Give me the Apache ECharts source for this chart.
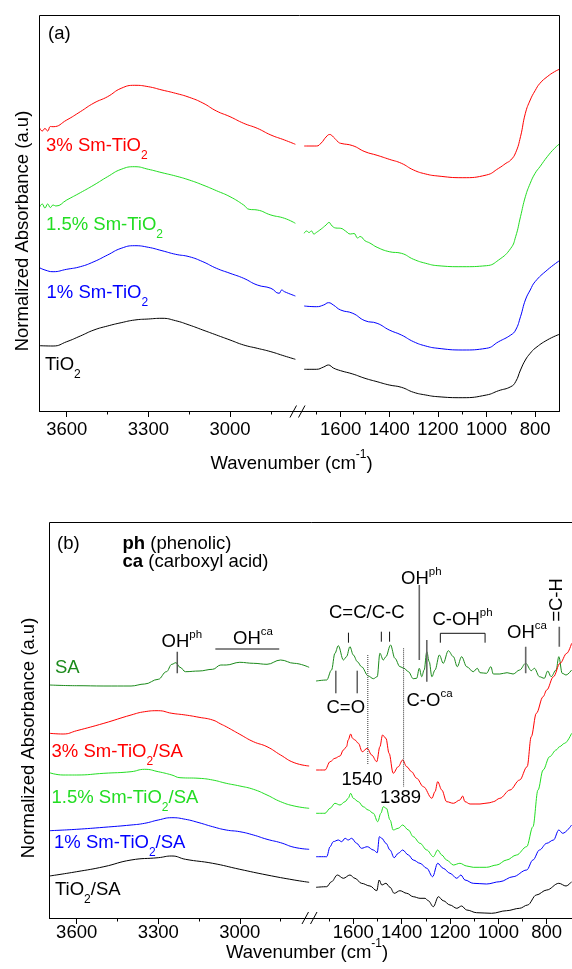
<!DOCTYPE html>
<html><head><meta charset="utf-8">
<script src="https://cdn.jsdelivr.net/npm/echarts@6/dist/echarts.min.js"></script>
<style>html,body{margin:0;padding:0;background:#fff}#c{width:572px;height:969px}</style>
</head><body><div id="c"></div>
<script>
// ---------------- DATA (wavenumber cm-1, normalized absorbance a.u.) ----------------
// Panel (a)
const aRedL = [[3700,2.833],[3690,2.80],[3680,2.825],[3670,2.80],[3660,2.845],[3650,2.843],[3600,2.91],[3550,2.993],[3500,3.08],[3450,3.143],[3400,3.227],[3350,3.257],[3300,3.243],[3250,3.21],[3200,3.177],[3150,3.137],[3100,3.08],[3050,3.00],[3000,2.943],[2950,2.877],[2900,2.827],[2850,2.76],[2800,2.71],[2760,2.667]];
const aRedR = [[1750,2.65],[1700,2.65],[1680,2.68],[1660,2.74],[1645,2.765],[1630,2.74],[1610,2.69],[1600,2.677],[1550,2.653],[1500,2.593],[1450,2.557],[1400,2.517],[1350,2.477],[1300,2.41],[1250,2.37],[1200,2.35],[1100,2.333],[1000,2.36],[950,2.427],[920,2.477],[900,2.51],[880,2.583],[860,2.743],[840,2.977],[820,3.11],[800,3.203],[780,3.277],[750,3.343],[720,3.393],[700,3.417]];
const aGreenL = [[3700,2.037],[3690,2.07],[3680,2.03],[3670,2.07],[3660,2.035],[3650,2.06],[3640,2.05],[3600,2.11],[3550,2.183],[3500,2.26],[3450,2.343],[3400,2.417],[3350,2.443],[3300,2.417],[3250,2.383],[3200,2.35],[3150,2.31],[3100,2.26],[3050,2.203],[3000,2.143],[2950,2.06],[2930,2.017],[2900,2.01],[2850,1.96],[2800,1.927],[2760,1.877]];
const aGreenR = [[1750,1.777],[1740,1.80],[1730,1.785],[1720,1.80],[1710,1.77],[1700,1.785],[1680,1.82],[1660,1.86],[1648,1.885],[1635,1.85],[1620,1.83],[1600,1.827],[1580,1.80],[1560,1.77],[1545,1.775],[1530,1.73],[1520,1.745],[1500,1.703],[1480,1.68],[1450,1.637],[1400,1.593],[1350,1.577],[1300,1.517],[1250,1.477],[1200,1.453],[1100,1.443],[1000,1.453],[950,1.51],[900,1.627],[880,1.743],[860,1.943],[840,2.143],[820,2.277],[800,2.377],[780,2.443],[750,2.543],[720,2.627],[700,2.67]];
const aBlueL = [[3700,1.433],[3680,1.41],[3650,1.393],[3600,1.417],[3550,1.443],[3500,1.493],[3450,1.56],[3400,1.627],[3350,1.653],[3300,1.637],[3250,1.603],[3200,1.567],[3150,1.543],[3100,1.493],[3050,1.427],[3000,1.377],[2950,1.327],[2900,1.26],[2850,1.227],[2820,1.177],[2810,1.21],[2800,1.193],[2760,1.15]];
const aBlueR = [[1750,1.05],[1700,1.043],[1670,1.06],[1650,1.083],[1630,1.06],[1600,1.01],[1550,0.977],[1500,0.903],[1450,0.877],[1400,0.81],[1350,0.76],[1300,0.693],[1250,0.65],[1200,0.627],[1100,0.61],[1000,0.627],[950,0.693],[900,0.76],[880,0.81],[860,0.943],[840,1.11],[820,1.21],[800,1.293],[750,1.41],[700,1.503]];
const aBlackL = [[3700,0.653],[3650,0.65],[3600,0.693],[3550,0.75],[3500,0.81],[3450,0.85],[3400,0.883],[3350,0.91],[3300,0.92],[3250,0.927],[3200,0.903],[3150,0.86],[3100,0.81],[3050,0.76],[3000,0.71],[2950,0.66],[2900,0.627],[2850,0.593],[2800,0.55],[2760,0.517]];
const aBlackR = [[1750,0.417],[1700,0.417],[1670,0.44],[1650,0.46],[1630,0.43],[1600,0.403],[1550,0.37],[1500,0.327],[1450,0.293],[1400,0.26],[1350,0.237],[1300,0.187],[1250,0.16],[1200,0.143],[1100,0.133],[1000,0.16],[950,0.203],[900,0.243],[880,0.293],[860,0.41],[840,0.51],[820,0.577],[800,0.627],[750,0.71],[700,0.767]];

// Panel (b)
const bSAL = [[3700,2.33],[3600,2.323],[3500,2.32],[3400,2.32],[3350,2.34],[3300,2.387],[3270,2.463],[3250,2.537],[3235,2.553],[3220,2.507],[3200,2.463],[3150,2.47],[3100,2.487],[3070,2.53],[3050,2.53],[3000,2.557],[2950,2.547],[2900,2.537],[2850,2.58],[2800,2.547],[2745,2.507]];
const bSAR = [[1754,2.37],[1710,2.38],[1690,2.48],[1676,2.647],[1662,2.723],[1641,2.58],[1628,2.613],[1614,2.713],[1600,2.63],[1583,2.563],[1566,2.513],[1538,2.42],[1517,2.393],[1501,2.413],[1490,2.647],[1476,2.58],[1465,2.613],[1446,2.73],[1428,2.597],[1407,2.513],[1390,2.497],[1372,2.463],[1352,2.393],[1338,2.397],[1327,2.497],[1317,2.413],[1307,2.48],[1296,2.663],[1286,2.563],[1275,2.413],[1262,2.48],[1244,2.63],[1228,2.547],[1207,2.673],[1186,2.613],[1170,2.513],[1152,2.613],[1131,2.513],[1104,2.463],[1087,2.497],[1076,2.453],[1049,2.447],[1031,2.513],[1021,2.44],[994,2.44],[964,2.453],[939,2.44],[912,2.48],[887,2.547],[864,2.473],[851,2.497],[830,2.413],[810,2.397],[796,2.47],[782,2.413],[761,2.48],[750,2.613],[736,2.447],[720,2.43],[697,2.48]];
const bRedL = [[3700,1.847],[3650,1.84],[3600,1.873],[3500,1.947],[3400,2.03],[3350,2.063],[3300,2.073],[3250,2.047],[3200,2.03],[3150,2.007],[3100,1.98],[3070,1.94],[3050,1.913],[3000,1.837],[2950,1.763],[2900,1.713],[2850,1.63],[2800,1.553],[2745,1.52]];
const bRedR = [[1754,1.48],[1717,1.48],[1696,1.563],[1676,1.597],[1655,1.62],[1641,1.68],[1628,1.713],[1621,1.78],[1611,1.84],[1603,1.797],[1593,1.78],[1579,1.747],[1563,1.663],[1542,1.697],[1524,1.63],[1503,1.563],[1490,1.713],[1479,1.83],[1465,1.797],[1452,1.647],[1435,1.447],[1414,1.513],[1396,1.58],[1379,1.513],[1359,1.463],[1338,1.397],[1310,1.313],[1275,1.197],[1262,1.263],[1251,1.363],[1234,1.28],[1214,1.163],[1186,1.147],[1159,1.18],[1148,1.22],[1138,1.163],[1117,1.14],[1076,1.14],[1035,1.153],[1021,1.163],[994,1.197],[952,1.28],[912,1.38],[881,1.513],[864,1.813],[843,2.047],[815,2.213],[800,2.28],[772,2.413],[745,2.547],[717,2.647],[697,2.747]];
const bGreenL = [[3700,1.453],[3650,1.43],[3600,1.43],[3500,1.447],[3400,1.463],[3350,1.487],[3300,1.463],[3250,1.43],[3220,1.403],[3150,1.397],[3100,1.38],[3050,1.347],[3000,1.32],[2950,1.287],[2900,1.23],[2850,1.163],[2800,1.12],[2745,1.097]];
const bGreenR = [[1754,1.047],[1717,1.047],[1696,1.097],[1676,1.147],[1655,1.13],[1634,1.163],[1621,1.197],[1611,1.247],[1600,1.197],[1579,1.163],[1559,1.113],[1538,1.08],[1517,1.047],[1499,0.963],[1486,1.047],[1476,1.113],[1463,1.097],[1448,0.98],[1435,0.88],[1414,0.897],[1396,0.93],[1372,0.88],[1352,0.813],[1324,0.747],[1296,0.68],[1269,0.613],[1251,0.68],[1234,0.63],[1214,0.58],[1186,0.53],[1159,0.547],[1131,0.52],[1104,0.507],[1049,0.507],[1007,0.53],[966,0.58],[925,0.63],[883,0.713],[857,0.913],[836,1.28],[815,1.48],[788,1.613],[761,1.68],[747,1.713],[726,1.747],[697,1.847]];
const bBlueL = [[3700,0.873],[3600,0.887],[3500,0.907],[3400,0.93],[3350,0.947],[3300,0.98],[3250,1.003],[3200,0.987],[3150,0.953],[3100,0.913],[3050,0.88],[3000,0.863],[2950,0.83],[2900,0.787],[2850,0.753],[2800,0.707],[2745,0.687]];
const bBlueR = [[1754,0.613],[1710,0.613],[1696,0.713],[1683,0.763],[1662,0.78],[1648,0.763],[1634,0.797],[1621,0.78],[1607,0.797],[1586,0.747],[1566,0.697],[1542,0.713],[1517,0.68],[1501,0.653],[1492,0.813],[1482,0.797],[1465,0.747],[1448,0.68],[1431,0.603],[1414,0.647],[1396,0.68],[1372,0.63],[1352,0.58],[1324,0.547],[1296,0.497],[1272,0.413],[1251,0.547],[1228,0.497],[1200,0.447],[1172,0.397],[1155,0.43],[1138,0.38],[1104,0.347],[1049,0.34],[994,0.363],[939,0.413],[883,0.48],[857,0.58],[830,0.68],[800,0.747],[772,0.78],[750,0.88],[734,0.847],[697,0.93]];
const bBlackL = [[3700,0.42],[3600,0.463],[3500,0.513],[3400,0.58],[3300,0.603],[3250,0.62],[3200,0.587],[3100,0.547],[3000,0.487],[2900,0.43],[2800,0.38],[2745,0.357]];
const bBlackR = [[1754,0.307],[1710,0.313],[1690,0.363],[1666,0.43],[1641,0.397],[1614,0.43],[1593,0.397],[1566,0.347],[1531,0.32],[1503,0.273],[1493,0.38],[1482,0.33],[1465,0.347],[1448,0.307],[1431,0.247],[1407,0.273],[1379,0.247],[1352,0.213],[1324,0.197],[1303,0.197],[1290,0.173],[1269,0.113],[1248,0.213],[1228,0.173],[1200,0.13],[1172,0.097],[1152,0.12],[1131,0.08],[1090,0.053],[1028,0.047],[966,0.073],[912,0.097],[879,0.13],[843,0.23],[800,0.28],[750,0.347],[720,0.32],[697,0.363]];

// Band-assignment marker lines in panel (b), data coordinates
const annLeftGray = [[[3230,2.663],[3230,2.447]]];
const annLeftThin = [[[3090,2.69],[2855,2.69]]];
const annRightThin = [[[1620,2.853],[1620,2.753]],[[1484,2.863],[1484,2.763]],[[1450,2.863],[1450,2.763]],[[1672,2.473],[1672,2.247]],[[1584,2.473],[1584,2.247]],[[1240,2.753],[1240,2.847],[1055,2.847],[1055,2.753]]];
const annRightGray = [[[1327,3.33],[1327,2.58]],[[1296,2.78],[1296,2.363]],[[887,2.713],[887,2.447]],[[748,2.913],[748,2.713]]];
const annDotted = [[[1540,2.63],[1540,1.53]],[[1392,2.697],[1392,1.313]]];

// Tick values
const ticksLeftMajor = [3600, 3300, 3000];
const ticksLeftMinor = [3450, 3150, 2850];
const ticksRightMajor = [1600, 1400, 1200, 1000, 800];
const ticksRightMinor = [1700, 1500, 1300, 1100, 900];

// ---------------- STYLE / LAYOUT ----------------
const FONT = '"Liberation Sans", Arial, Helvetica, sans-serif';
const FS = 18.5;
const RED = '#ff0000', LG = '#22dd22', BLUE = '#0000ff', BLK = '#000000', DG = '#1b8a1b';

const ctx = document.createElement('canvas').getContext('2d');
function tw(t, size, weight) { ctx.font = (weight || 'normal') + ' ' + size + 'px ' + FONT; return ctx.measureText(t).width; }

// parts: [text, kind] kind: '', 'sub', 'sup', 'supHi', 'b'
function label(x, y, parts, color, out) {
  let cx = x;
  parts.forEach(([t, kind]) => {
    let size = FS, dy = 0, weight = 'normal';
    if (kind === 'sub') { size = 12; dy = 9.5; }
    else if (kind === 'sup') { size = 11.5; dy = -7; }
    else if (kind === 'supHi') { size = 12; dy = -9; }
    else if (kind === 'b') { weight = 'bold'; }
    out.push({ type: 'text', x: cx, y: y + dy, silent: true, z: 100,
      style: { text: t, font: weight + ' ' + size + 'px ' + FONT, fill: color || '#000', align: 'left', verticalAlign: 'middle' } });
    cx += tw(t, size, weight);
  });
}

const G = [];
// frames
G.push({ type: 'rect', silent: true, z: 50, shape: { x: 39.5, y: 15.5, width: 520, height: 396 }, style: { fill: 'none', stroke: '#000', lineWidth: 1 } });
G.push({ type: 'rect', silent: true, z: 50, shape: { x: 49.5, y: 522.5, width: 540, height: 396 }, style: { fill: 'none', stroke: '#000', lineWidth: 1 } });
// axis breaks
[[290, 417.5, 296.5, 405.5], [298.5, 417.5, 305, 405.5], [302, 924, 308.5, 912], [310.5, 924, 317, 912]].forEach(s => {
  G.push({ type: 'line', silent: true, z: 60, shape: { x1: s[0], y1: s[1], x2: s[2], y2: s[3] }, style: { stroke: '#000', lineWidth: 1 } });
});
// y-axis titles
G.push({ type: 'text', x: 23, y: 231, rotation: Math.PI / 2, silent: true, z: 100, style: { text: 'Normalized Absorbance (a.u)', font: FS + 'px ' + FONT, fill: '#000', align: 'center', verticalAlign: 'middle' } });
G.push({ type: 'text', x: 29, y: 738, rotation: Math.PI / 2, silent: true, z: 100, style: { text: 'Normalized Absorbance (a.u)', font: FS + 'px ' + FONT, fill: '#000', align: 'center', verticalAlign: 'middle' } });
// x-axis titles
label(210.5, 464, [['Wavenumber (cm', ''], ['-1', 'supHi'], [')', '']], '#000', G);
label(226, 953, [['Wavenumber (cm', ''], ['-1', 'supHi'], [')', '']], '#000', G);
// panel (a) labels
label(48, 33.5, [['(a)', '']], '#000', G);
label(46, 145.7, [['3% Sm-TiO', ''], ['2', 'sub']], RED, G);
label(46, 225, [['1.5% Sm-TiO', ''], ['2', 'sub']], LG, G);
label(46.5, 292.7, [['1% Sm-TiO', ''], ['2', 'sub']], BLUE, G);
label(45, 365, [['TiO', ''], ['2', 'sub']], BLK, G);
// panel (b) labels
label(57, 544, [['(b)', '']], '#000', G);
label(122.5, 544, [['ph', 'b'], [' (phenolic)', '']], '#000', G);
label(122.5, 562, [['ca', 'b'], [' (carboxyl acid)', '']], '#000', G);
label(55, 667.7, [['SA', '']], DG, G);
label(51.5, 751.7, [['3% Sm-TiO', ''], ['2', 'sub'], ['/SA', '']], RED, G);
label(51.5, 797.7, [['1.5% Sm-TiO', ''], ['2', 'sub'], ['/SA', '']], LG, G);
label(54, 842.7, [['1% Sm-TiO', ''], ['2', 'sub'], ['/SA', '']], BLUE, G);
label(55, 890, [['TiO', ''], ['2', 'sub'], ['/SA', '']], BLK, G);
// band annotations
label(161.5, 641.7, [['OH', ''], ['ph', 'sup']], '#000', G);
label(233, 639.3, [['OH', ''], ['ca', 'sup']], '#000', G);
label(329, 613.3, [['C=C/C-C', '']], '#000', G);
label(326.5, 708.3, [['C=O', '']], '#000', G);
label(341.5, 780, [['1540', '']], '#000', G);
label(380, 798.3, [['1389', '']], '#000', G);
label(401, 579, [['OH', ''], ['ph', 'sup']], '#000', G);
label(406.5, 701, [['C-O', ''], ['ca', 'sup']], '#000', G);
label(432.5, 620, [['C-OH', ''], ['ph', 'sup']], '#000', G);
label(507, 633.3, [['OH', ''], ['ca', 'sup']], '#000', G);
G.push({ type: 'text', x: 556.5, y: 600, rotation: Math.PI / 2, silent: true, z: 100, style: { text: '=C-H', font: FS + 'px ' + FONT, fill: '#000', align: 'center', verticalAlign: 'middle' } });

// ---------------- AXES ----------------
const grids = [
  { left: 39.5, top: 15, width: 258.6, height: 396 },
  { left: 298.1, top: 15, width: 261.3, height: 396 },
  { left: 49.5, top: 522, width: 261.0, height: 396 },
  { left: 310.5, top: 522, width: 260.4, height: 396 }
];
const ranges = [[2750, 3700], [700, 1775], [2740, 3700], [700, 1777]];
const majors = [ticksLeftMajor, ticksRightMajor, ticksLeftMajor, ticksRightMajor];
const minors = [ticksLeftMinor, ticksRightMinor, ticksLeftMinor, ticksRightMinor];
const margins = [9, 9, 5, 5];
const xAxes = [], yAxes = [];
for (let i = 0; i < 4; i++) {
  xAxes.push({ type: 'value', gridIndex: i, inverse: true, min: ranges[i][0], max: ranges[i][1], position: 'bottom',
    axisLine: { show: true, lineStyle: { color: '#000', width: 1 } },
    axisTick: { show: true, customValues: majors[i], length: 6, lineStyle: { color: '#000', width: 1 } },
    axisLabel: { show: true, customValues: majors[i], color: '#000', fontSize: FS, fontFamily: FONT, margin: margins[i],
      formatter: v => String(Math.round(v)) },
    splitLine: { show: false } });
  yAxes.push({ type: 'value', gridIndex: i, min: 0, max: 3.96, show: false });
}
for (let i = 0; i < 4; i++) {
  xAxes.push({ type: 'value', gridIndex: i, inverse: true, min: ranges[i][0], max: ranges[i][1], position: 'bottom',
    axisLine: { show: false },
    axisTick: { show: true, customValues: minors[i], length: 3.5, lineStyle: { color: '#000', width: 1 } },
    axisLabel: { show: false }, splitLine: { show: false } });
}

// ---------------- SERIES ----------------
function ln(data, g, color, smooth, mono) {
  const s = { type: 'line', xAxisIndex: g, yAxisIndex: g, data, symbol: 'none', showSymbol: false, smooth,
    lineStyle: { color, width: 1 }, itemStyle: { color }, silent: true, animation: false, z: 2 };
  if (mono) s.smoothMonotone = 'x';
  return s;
}
function ann(data, g, color, width, type) {
  return { type: 'line', xAxisIndex: g, yAxisIndex: g, data, symbol: 'none', showSymbol: false, smooth: false,
    lineStyle: { color, width, type: type || 'solid' }, itemStyle: { color }, silent: true, animation: false, z: 3 };
}
const series = [
  ln(aRedL, 0, RED, 0.5), ln(aRedR, 1, RED, 0.5),
  ln(aGreenL, 0, LG, 0.5), ln(aGreenR, 1, LG, 0.5),
  ln(aBlueL, 0, BLUE, 0.5), ln(aBlueR, 1, BLUE, 0.5),
  ln(aBlackL, 0, BLK, 0.5), ln(aBlackR, 1, BLK, 0.5),
  ln(bSAL, 2, DG, 0.4, true), ln(bSAR, 3, DG, 0.35, true),
  ln(bRedL, 2, RED, 0.5), ln(bRedR, 3, RED, 0.35, true),
  ln(bGreenL, 2, LG, 0.5), ln(bGreenR, 3, LG, 0.35, true),
  ln(bBlueL, 2, BLUE, 0.5), ln(bBlueR, 3, BLUE, 0.35, true),
  ln(bBlackL, 2, BLK, 0.5), ln(bBlackR, 3, BLK, 0.35, true)
];
annLeftGray.forEach(d => series.push(ann(d, 2, '#555', 1.5)));
annLeftThin.forEach(d => series.push(ann(d, 2, '#111', 1)));
annRightThin.forEach(d => series.push(ann(d, 3, '#111', 1)));
annRightGray.forEach(d => series.push(ann(d, 3, '#666', 1.6)));
annDotted.forEach(d => series.push(ann(d, 3, '#333', 1, 'dotted')));

const chart = echarts.init(document.getElementById('c'), null, { renderer: 'canvas', width: 572, height: 969 });
chart.setOption({
  animation: false,
  backgroundColor: '#fff',
  grid: grids,
  xAxis: xAxes,
  yAxis: yAxes,
  series,
  graphic: G
});
</script></body></html>
